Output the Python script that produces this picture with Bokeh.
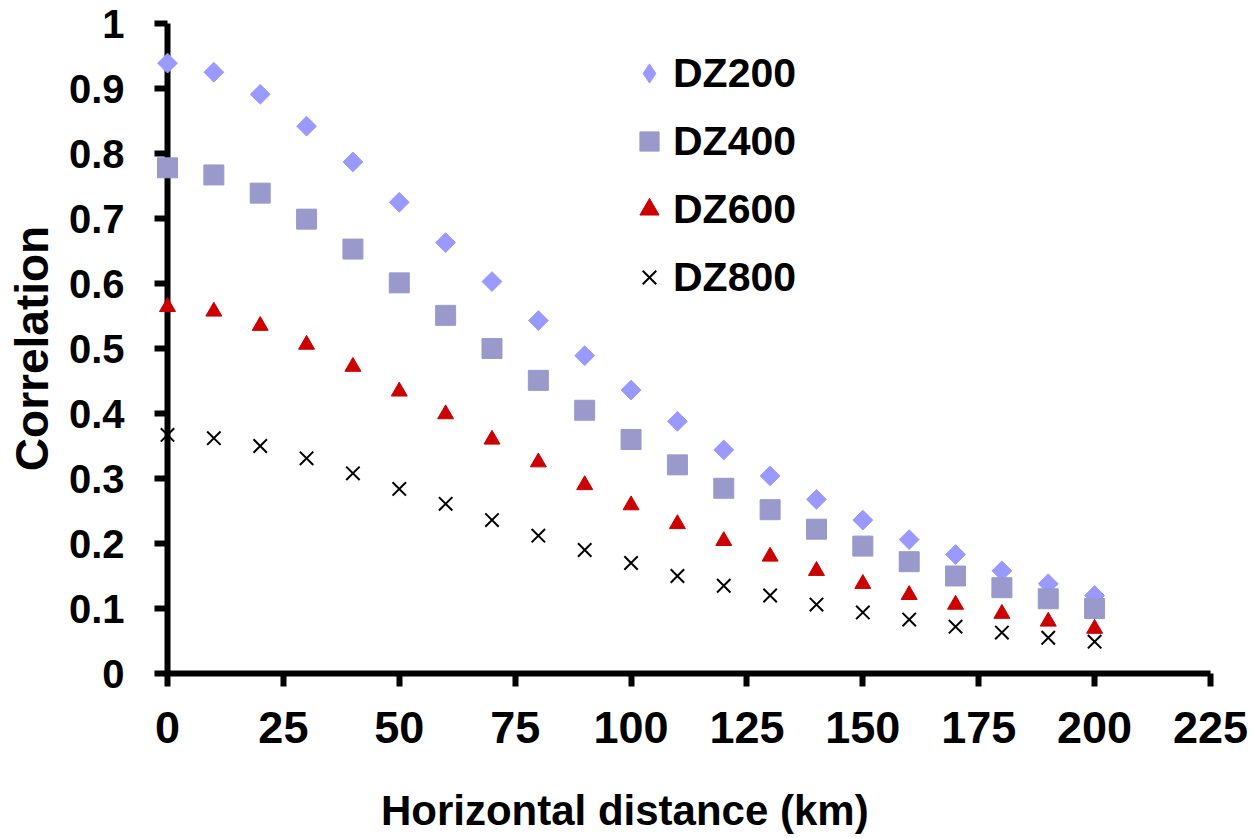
from bokeh.plotting import figure
from bokeh.models import FixedTicker, CustomJSTickFormatter, Legend, LegendItem, Range1d
from bokeh.embed import file_html
from bokeh.resources import INLINE
import math

# ---- data ----
distance = [0, 10, 20, 30, 40, 50, 60, 70, 80, 90, 100, 110, 120, 130, 140, 150, 160, 170, 180, 190, 200]
dz200 = [0.939, 0.925, 0.891, 0.842, 0.787, 0.725, 0.663, 0.603, 0.543, 0.489, 0.436,
         0.388, 0.344, 0.304, 0.268, 0.236, 0.206, 0.183, 0.158, 0.138, 0.120]
dz400 = [0.778, 0.767, 0.739, 0.699, 0.653, 0.601, 0.551, 0.500, 0.451, 0.405, 0.360,
         0.321, 0.285, 0.252, 0.222, 0.196, 0.172, 0.150, 0.132, 0.115, 0.100]
dz600 = [0.564, 0.557, 0.535, 0.506, 0.472, 0.434, 0.399, 0.360, 0.325, 0.290, 0.259,
         0.230, 0.204, 0.180, 0.158, 0.138, 0.121, 0.106, 0.092, 0.080, 0.069]
dz800 = [0.367, 0.362, 0.350, 0.331, 0.308, 0.284, 0.261, 0.236, 0.212, 0.190, 0.170,
         0.150, 0.135, 0.120, 0.106, 0.094, 0.083, 0.072, 0.063, 0.055, 0.049]
series_names = ["DZ200", "DZ400", "DZ600", "DZ800"]
x_ticks = [0, 25, 50, 75, 100, 125, 150, 175, 200, 225]
y_ticks = [0, 0.1, 0.2, 0.3, 0.4, 0.5, 0.6, 0.7, 0.8, 0.9, 1]

FONT = "Liberation Sans"

p = figure(width=1253, height=838, output_backend="svg", toolbar_location=None,
           x_range=Range1d(0, 225), y_range=Range1d(0, 1),
           min_border_left=167, min_border_right=43, min_border_top=23, min_border_bottom=165)
p.background_fill_color = "white"
p.border_fill_color = "white"
p.outline_line_color = None
p.grid.visible = False

# legend key for the diamond series: same points, small, hidden beneath the diamonds
r1_key = p.scatter(distance, dz200, marker="diamond", size=8,
                   fill_color="#9999FF", line_color="#9999FF")

r1 = p.scatter(distance, dz200, marker="square", size=14, angle=math.pi / 4,
               fill_color="#9999FF", line_color="#9999FF")
r2 = p.scatter(distance, dz400, marker="square", size=20,
               fill_color="#9999CC", line_color="#9999CC")
r3 = p.scatter(distance, dz600, marker="triangle", size=16,
               fill_color="#CC0000", line_color="#CC0000")
r4 = p.scatter(distance, dz800, marker="x", size=19, line_color="black", line_width=2)
for r in (r1, r2, r3, r4):
    r.level = "overlay"

for ax in (p.xaxis[0], p.yaxis[0]):
    ax.axis_line_width = 6
    ax.axis_line_color = "black"
    ax.major_tick_line_width = 6
    ax.major_tick_line_color = "black"
    ax.major_tick_in = 0
    ax.major_tick_out = 13
    ax.minor_tick_line_color = None
    ax.major_label_text_font = FONT
    ax.major_label_text_font_style = "bold"
    ax.major_label_text_color = "black"
    ax.axis_label_text_font = FONT
    ax.axis_label_text_font_style = "bold"
    ax.axis_label_text_color = "black"

p.xaxis.ticker = FixedTicker(ticks=x_ticks)
p.yaxis.ticker = FixedTicker(ticks=y_ticks)
p.yaxis.formatter = CustomJSTickFormatter(code="return String(Math.round(tick*10)/10)")
p.xaxis.major_label_text_font_size = "45px"
p.yaxis.major_label_text_font_size = "40px"
p.xaxis.major_label_standoff = 25
p.yaxis.major_label_standoff = 30
p.xaxis.axis_label = "Horizontal distance (km)" + "\u00a0" * 11
p.yaxis.axis_label = "Correlation"
p.xaxis.axis_label_text_font_size = "42px"
p.yaxis.axis_label_text_font_size = "46px"
p.xaxis.axis_label_standoff = 41
p.yaxis.axis_label_standoff = 8

legend = Legend(items=[LegendItem(label=n, renderers=[r])
                       for n, r in zip(series_names, (r1_key, r2, r3, r4))],
                location=(458, 372), padding=0, margin=0, spacing=20,
                glyph_width=48, glyph_height=48, label_standoff=0,
                label_text_font=FONT, label_text_font_style="bold",
                label_text_font_size="41px", label_text_color="black",
                border_line_color=None, background_fill_alpha=0)
p.add_layout(legend)

open("out.html", "w").write(file_html(p, INLINE))
